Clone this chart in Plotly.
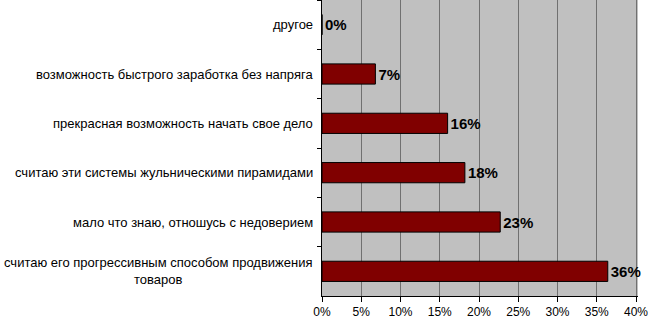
import plotly.graph_objects as go

categories = [
    "другое",
    "возможность быстрого заработка без напряга",
    "прекрасная возможность начать свое дело",
    "считаю эти системы жульническими пирамидами",
    "мало что знаю, отношусь с недоверием",
    "считаю его прогрессивным способом продвижения<br>товаров",
]
values = [0.0, 6.8, 16.0, 18.2, 22.7, 36.4]
value_labels = ["0%", "7%", "16%", "18%", "23%", "36%"]
x_ticks = [0, 5, 10, 15, 20, 25, 30, 35, 40]
x_tick_labels = ["0%", "5%", "10%", "15%", "20%", "25%", "30%", "35%", "40%"]

fig = go.Figure()
fig.add_trace(go.Bar(
    y=categories,
    x=values,
    orientation="h",
    marker=dict(color="#800000", line=dict(color="#000000", width=1)),
    width=0.41,
    text=value_labels,
    textposition="outside",
    textfont=dict(family="Liberation Sans, Arial, sans-serif", size=15, color="#000000"),
    texttemplate="<b>%{text}</b>",
    cliponaxis=False,
    hoverinfo="skip",
))

for cat in categories:
    fig.add_annotation(
        x=0, xref="paper", y=cat, yref="y",
        text=cat, showarrow=False,
        xanchor="right", yanchor="middle", xshift=-7,
        align="center",
        font=dict(family="Liberation Sans, Arial, sans-serif", size=13, color="#000000"),
    )

fig.update_layout(
    width=648, height=319,
    margin=dict(l=322, r=10, t=0, b=23, autoexpand=False),
    paper_bgcolor="#ffffff",
    plot_bgcolor="#c0c0c0",
    showlegend=False,
    font=dict(family="Liberation Sans, Arial, sans-serif", size=12, color="#000000"),
)
fig.update_xaxes(
    range=[0, 40.25],
    tickvals=x_ticks, ticktext=x_tick_labels,
    showgrid=True, gridcolor="#707070", gridwidth=1,
    showline=True, linecolor="#000000", linewidth=1,
    ticks="outside", ticklen=5, tickcolor="#000000",
    tickfont=dict(size=12),
    ticklabeloverflow="allow",
    zeroline=False, fixedrange=True,
)
fig.update_yaxes(
    autorange="reversed",
    showticklabels=False,
    showline=True, linecolor="#000000", linewidth=1,
    ticks="outside", ticklen=4, tickcolor="#000000",
    tickson="boundaries",
    showgrid=False, fixedrange=True,
)

fig.write_html(
    "out.html",
    config={"displayModeBar": False},
    post_script="document.body.style.margin='0px';document.body.style.overflow='hidden';",
)
